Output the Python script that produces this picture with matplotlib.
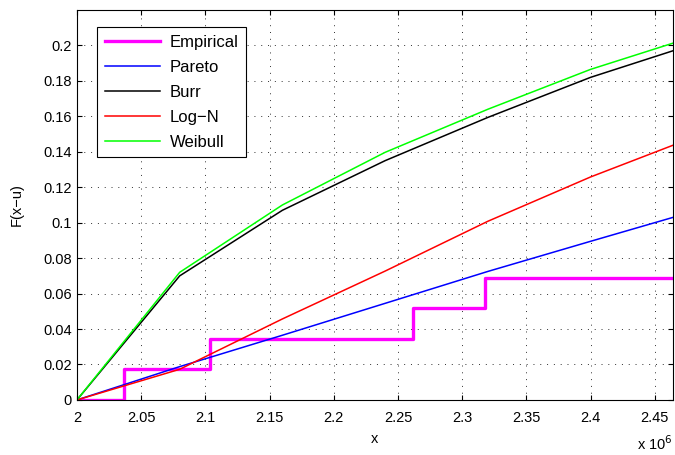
from matplotlib import pyplot as plt
from matplotlib.ticker import FuncFormatter

plt.rcParams['font.family'] = ['Liberation Sans', 'DejaVu Sans']

# nodes of the fitted curves (x in raw units)
x_fit = [2.0e6, 2.08e6, 2.16e6, 2.24e6, 2.32e6, 2.40e6, 2.4642e6]
pareto = [0.0, 0.0188, 0.0365, 0.0545, 0.0725, 0.0895, 0.1030]
burr = [0.0, 0.0700, 0.1070, 0.1350, 0.1594, 0.1820, 0.1970]
logn = [0.0, 0.0173, 0.0457, 0.0727, 0.1008, 0.1258, 0.1437]
weibull = [0.0, 0.0720, 0.1100, 0.1397, 0.1640, 0.1865, 0.2013]

# empirical step function
x_emp = [2.0e6, 2.0370e6, 2.1040e6, 2.2614e6, 2.3180e6, 2.4642e6]
y_emp = [0.0, 0.01724, 0.03448, 0.05172, 0.06897, 0.06897]

fig = plt.figure(figsize=(6.75, 4.55), dpi=100)
ax = fig.add_axes([0.114, 0.121, 0.883, 0.857])

ax.plot(x_emp, y_emp, color='#ff00ff', lw=2.4, drawstyle='steps-post', label='Empirical')
ax.plot(x_fit, pareto, color='#0000ff', lw=1.1, label='Pareto')
ax.plot(x_fit, burr, color='black', lw=1.1, label='Burr')
ax.plot(x_fit, logn, color='#ff0000', lw=1.1, label='Log\u2212N')
ax.plot(x_fit, weibull, color='#00ff00', lw=1.1, label='Weibull')

ax.set_xlim(2.0e6, 2.4642e6)
ax.set_ylim(0, 0.22)
ax.set_xticks([2.0e6 + 0.05e6 * i for i in range(10)])
ax.set_yticks([0.02 * i for i in range(11)])
ax.xaxis.set_major_formatter(FuncFormatter(lambda v, p: '%g' % round(v / 1e6, 2)))
ax.yaxis.set_major_formatter(FuncFormatter(lambda v, p: '%g' % round(v, 2)))

ax.grid(True, color='#303030', linestyle=(0, (1, 6)), lw=0.7)
ax.tick_params(direction='in', top=True, right=True, labelsize=10.5, length=3.5)
ax.tick_params(axis='x', pad=8)
for s in ax.spines.values():
    s.set_linewidth(0.8)

ax.set_xlabel('x', fontsize=10.5, labelpad=5)
ax.set_ylabel('F(x\u2212u)', fontsize=10.5, labelpad=14)
ax.text(1.0, -0.088, 'x 10$^{6}$', transform=ax.transAxes, ha='right', va='top', fontsize=10.5)

leg = ax.legend(loc='upper left', bbox_to_anchor=(0.034, 0.956), borderaxespad=0, fontsize=12,
                fancybox=False, framealpha=1, edgecolor='black', handlelength=3.3,
                borderpad=0.45, labelspacing=0.6, handletextpad=0.6)
leg.get_frame().set_linewidth(0.8)

fig.savefig('out.png')
